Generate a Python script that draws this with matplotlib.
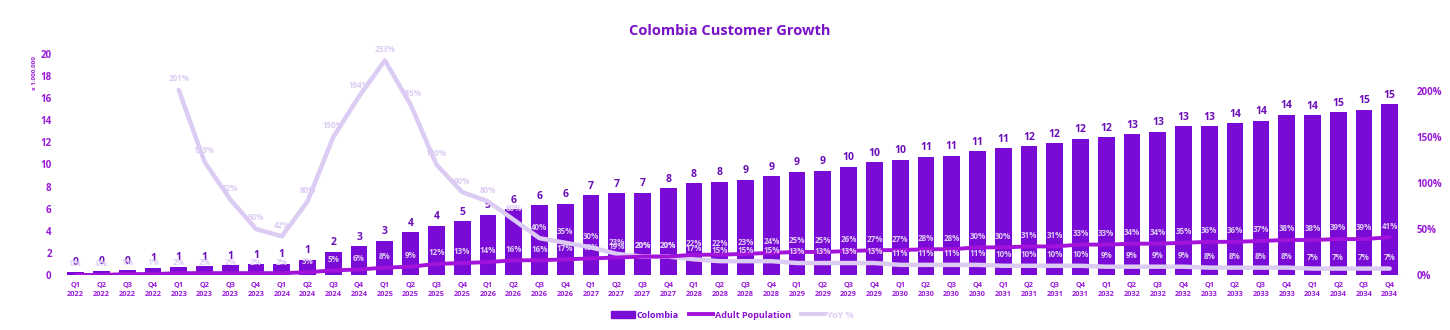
import matplotlib
matplotlib.use("Agg")
import matplotlib.pyplot as plt
from matplotlib.patches import Patch
from matplotlib.lines import Line2D
import numpy as np

plt.rcParams['font.family'] = ['Open Sans', 'DejaVu Sans']

years = [str(y) for y in range(2022, 2035)]
quarters = ['Q1', 'Q2', 'Q3', 'Q4']
tick_labels = [f"{q}\n{y}" for y in years for q in quarters]

colombia = [0.3, 0.4, 0.45, 0.65, 0.75, 0.8, 0.9, 0.95, 1.0, 1.4, 2.1, 2.6,
            3.1, 3.85, 4.45, 4.85, 5.45, 5.95, 6.3, 6.45, 7.2, 7.4, 7.45, 7.85,
            8.3, 8.45, 8.6, 8.95, 9.35, 9.45, 9.8, 10.2, 10.45, 10.7, 10.8, 11.2,
            11.45, 11.65, 11.9, 12.35, 12.45, 12.75, 12.95, 13.45, 13.45, 13.75, 13.95, 14.5,
            14.45, 14.75, 14.95, 15.45]

adult_pct = [0, 0, 1, 1, 2, 2, 2, 2, 2, 3, 5, 6,
             8, 9, 12, 13, 14, 16, 16, 17, 18, 19, 20, 20,
             22, 22, 23, 24, 25, 25, 26, 27, 27, 28, 28, 30,
             30, 31, 31, 33, 33, 34, 34, 35, 36, 36, 37, 38,
             38, 39, 39, 41]

yoy_pct = [None, None, None, None,
           201, 123, 82, 50, 42, 80, 150, 194,
           233, 185, 120, 90, 80, 60, 40, 35, 30, 23, 20, 20,
           17, 15, 15, 15, 13, 13, 13, 13, 11, 11, 11, 11,
           10, 10, 10, 10, 9, 9, 9, 9, 8, 8, 8, 8,
           7, 7, 7, 7]

left_ticks = [0, 2, 4, 6, 8, 10, 12, 14, 16, 18, 20]
right_ticks = [0, 0.5, 1.0, 1.5, 2.0]
right_tick_labels = ['0%', '50%', '100%', '150%', '200%']

BAR = '#7A0BD6'
ADULT = '#A312DA'
YOY = '#DCCBF3'
PCT_TXT = '#DCCBF3'
VAL_TXT = '#6A0FB8'
TICK = '#9A1BD8'
TITLE = '#7A10C8'

fig = plt.figure(figsize=(14.5, 3.3), dpi=100)
ax = fig.add_axes([0.0433, 0.1667, 0.924, 0.6697])
x = np.arange(len(colombia))

ax.bar(x, colombia, width=0.65, color=BAR, zorder=2)
ax.set_xlim(-0.5, len(colombia) - 0.5)
ax.set_ylim(0, 20)
ax.set_yticks(left_ticks)
ax.set_yticklabels([str(t) for t in left_ticks], fontsize=7, fontweight='bold', color=TICK)
ax.set_xticks(x)
ax.set_xticklabels(tick_labels, fontsize=5.3, fontweight='bold', color=TICK, linespacing=1.5)
ax.tick_params(axis='both', length=0)
ax.tick_params(axis='x', pad=5)
ax.tick_params(axis='y', pad=8)
for s in ax.spines.values():
    s.set_visible(False)
ax.axhline(0, color='#E0E0E0', lw=0.8, zorder=1)

for xi, v in zip(x, colombia):
    ax.annotate(f"{v:.0f}", (xi, v), xytext=(0, 2.5), textcoords='offset points',
                ha='center', va='bottom', fontsize=7.5, fontweight='bold', color=VAL_TXT, zorder=3)

ax2 = ax.twinx()
ax2.set_ylim(0, 2.4)
ax2.set_yticks(right_ticks)
ax2.set_yticklabels(right_tick_labels, fontsize=7, fontweight='bold', color=TICK)
ax2.tick_params(axis='y', length=0, pad=10)
for s in ax2.spines.values():
    s.set_visible(False)

adult_frac = [a / 100 for a in adult_pct]
yx = [xi for xi, v in zip(x, yoy_pct) if v is not None]
yv = [v / 100 for v in yoy_pct if v is not None]

ax2.plot(yx, yv, color=YOY, lw=3.2, solid_capstyle='round', solid_joinstyle='round', zorder=3)
ax2.plot(x, adult_frac, color=ADULT, lw=2.8, solid_capstyle='round', solid_joinstyle='round', zorder=4)

for xi, v in zip(yx, yv):
    ax2.annotate(f"{v*100:.0f}%", (xi, v), xytext=(0, 8), textcoords='offset points',
                 ha='center', va='center', fontsize=5.8, fontweight='bold', color=PCT_TXT, zorder=5)
for xi, a in zip(x, adult_pct):
    ax2.annotate(f"{a}%", (xi, a / 100), xytext=(0, 8), textcoords='offset points',
                 ha='center', va='center', fontsize=5.8, fontweight='bold', color=PCT_TXT, zorder=5)

fig.text(0.503, 0.905, 'Colombia Customer Growth', ha='center', va='center',
         fontsize=10.5, fontweight='bold', color=TITLE)
fig.text(0.024, 0.78, 'x 1.000.000', rotation=90, ha='center', va='center',
         fontsize=4.5, fontweight='bold', color=TICK)

handles = [Patch(facecolor=BAR, edgecolor=BAR),
           Line2D([0], [0], color=ADULT, lw=2.8),
           Line2D([0], [0], color=YOY, lw=2.8)]
labels = ['Colombia', 'Adult Population', 'YoY %']
leg = fig.legend(handles, labels, loc='center', bbox_to_anchor=(0.505, 0.045), ncol=3,
                 frameon=False, fontsize=6.5, handlelength=2.6, handletextpad=0.2,
                 columnspacing=1.2, prop={'weight': 'bold', 'size': 6.5})
for t, c in zip(leg.get_texts(), [BAR, '#8E10D0', YOY]):
    t.set_color(c)

fig.savefig('out.png', dpi=100)
